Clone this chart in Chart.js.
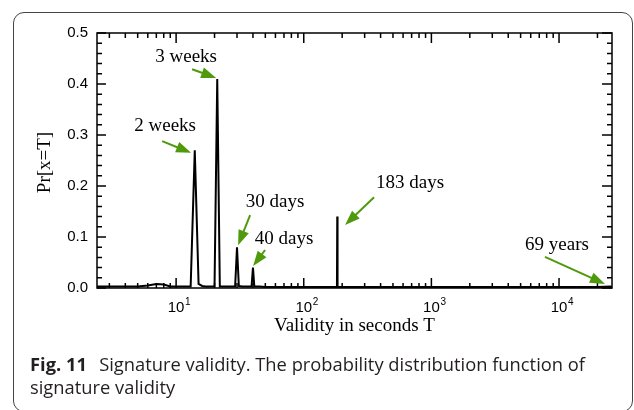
<!DOCTYPE html>
<html>
<head>
<meta charset="utf-8">
<script src="https://cdn.jsdelivr.net/npm/chart.js@4/dist/chart.umd.min.js"></script>
<style>
  html, body { margin: 0; padding: 0; background: #fff; }
  body { width: 634px; height: 410px; position: relative; overflow: hidden; }
  #frame {
    position: absolute; left: 13px; top: 12px; width: 620px; height: 400px;
    border: 1px solid #444; border-radius: 11px; box-sizing: border-box;
  }
  #chart { position: absolute; left: 0; top: 0; }
  #caption {
    position: absolute; left: 30px; top: 353px;
    font-family: "Open Sans", sans-serif; font-size: 18px; line-height: 23px;
    color: #231f20; transform-origin: left top; white-space: nowrap;
  }
  #caption b { font-weight: 700; margin-right: 12px; }
</style>
</head>
<body>
<div id="frame"></div>
<canvas id="chart" width="634" height="410"></canvas>
<div id="caption"><span id="cap1"><b>Fig. 11</b>Signature validity. The probability distribution function of</span><br><span>signature validity</span></div>
<script>
// validez en días (eje log) y probabilidad
const days = [2, 3, 4, 5, 6, 7, 8, 9, 10, 11, 12, 13, 14, 15, 16, 17, 18, 19, 20, 21, 22, 23, 25, 28, 29, 30, 31, 33, 36, 39, 40, 41, 45,
              50, 60, 70, 80, 100, 120, 150, 182, 183, 184, 200, 300, 500, 1000, 2000, 5000, 10000, 20000, 25200, 26000];
const prob = [0.003, 0.003, 0.003, 0.003, 0.005, 0.008, 0.007, 0.003, 0.003, 0.003, 0.003, 0.003, 0.27, 0.008, 0.004, 0.003, 0.003, 0.003, 0.003, 0.41, 0.003, 0.003, 0.003, 0.003, 0.003, 0.08, 0.004, 0.003, 0.003, 0.003, 0.04, 0.003, 0.003,
              0.002, 0.002, 0.002, 0.002, 0.002, 0.002, 0.002, 0.002, 0.14, 0.002, 0.002, 0.002, 0.002, 0.002, 0.002, 0.002, 0.002, 0.002, 0.003, 0.002];

// ticks
const xMajorTicks = [10, 100, 1000, 10000];
const xTickExp = ['1', '2', '3', '4'];
const xMinorMult = [2, 3, 4, 5, 6, 7, 8, 9];
const yMajorTicks = [0, 0.1, 0.2, 0.3, 0.4, 0.5];
const yTickLabels = ['0.0', '0.1', '0.2', '0.3', '0.4', '0.5'];
const yMinorStep = 0.02;

// anotaciones: texto, posición del texto, cola y punta de la flecha (en unidades de datos)
const notes = [
  { text: '2 weeks',  at: [8.2, 0.318],  from: [7.77, 0.288], to: [13.1, 0.265] },
  { text: '3 weeks',  at: [11.98, 0.453], from: [13.35, 0.429], to: [20.6, 0.412] },
  { text: '30 days',  at: [59.6, 0.169], from: [38.0, 0.143], to: [30.6, 0.084] },
  { text: '40 days',  at: [70.2, 0.096], from: [49.8, 0.0745], to: [40.1, 0.043] },
  { text: '183 days', at: [681, 0.206],  from: [355.6, 0.178], to: [210.7, 0.1235] },
  { text: '69 years', at: [9640, 0.084], from: [7762, 0.061], to: [22900, 0.008] }
];

const green = '#4f9a0c';
const sans = '"Liberation Sans", Arial, sans-serif';
const serif = '"Liberation Serif", "Times New Roman", serif';

function arrow(ctx, x1, y1, x2, y2) {
  const dx = x2 - x1, dy = y2 - y1;
  const len = Math.hypot(dx, dy);
  const ux = dx / len, uy = dy / len;
  const hl = 15, hw = 5.5;
  const bx = x2 - ux * hl, by = y2 - uy * hl;
  ctx.beginPath();
  ctx.moveTo(x1, y1);
  ctx.lineTo(bx + ux * 2, by + uy * 2);
  ctx.stroke();
  ctx.beginPath();
  ctx.moveTo(x2, y2);
  ctx.lineTo(bx - uy * hw, by + ux * hw);
  ctx.lineTo(bx + uy * hw, by - ux * hw);
  ctx.closePath();
  ctx.fill();
}

const framePlugin = {
  id: 'frame',
  afterDraw(chart) {
    const ctx = chart.ctx;
    const a = chart.chartArea;
    const xs = chart.scales.x, ys = chart.scales.y;
    ctx.save();
    ctx.strokeStyle = '#000';
    ctx.fillStyle = '#000';
    ctx.lineWidth = 1.5;
    ctx.strokeRect(a.left, a.top, a.right - a.left, a.bottom - a.top);

    // x ticks (hacia dentro, abajo y arriba)
    ctx.beginPath();
    xMajorTicks.forEach(function (d) {
      const base = d / 10;
      xMinorMult.forEach(function (m) {
        [base * m, d * m].forEach(function (v) {
          if (v <= xs.min || v >= xs.max) return;
          const px = xs.getPixelForValue(v);
          ctx.moveTo(px, a.bottom); ctx.lineTo(px, a.bottom - 5);
          ctx.moveTo(px, a.top); ctx.lineTo(px, a.top + 5);
        });
      });
      const px = xs.getPixelForValue(d);
      ctx.moveTo(px, a.bottom); ctx.lineTo(px, a.bottom - 10);
      ctx.moveTo(px, a.top); ctx.lineTo(px, a.top + 10);
    });
    // y ticks
    for (let v = 0; v <= 0.5001; v += yMinorStep) {
      const py = ys.getPixelForValue(v);
      ctx.moveTo(a.left, py); ctx.lineTo(a.left + 5, py);
      ctx.moveTo(a.right, py); ctx.lineTo(a.right - 5, py);
    }
    yMajorTicks.forEach(function (v) {
      const py = ys.getPixelForValue(v);
      ctx.moveTo(a.left, py); ctx.lineTo(a.left + 9, py);
      ctx.moveTo(a.right, py); ctx.lineTo(a.right - 10, py);
    });
    ctx.stroke();

    // etiquetas
    ctx.font = '15px ' + sans;
    ctx.textAlign = 'right';
    ctx.textBaseline = 'middle';
    yMajorTicks.forEach(function (v, i) {
      ctx.fillText(yTickLabels[i], a.left - 9, ys.getPixelForValue(v));
    });
    xMajorTicks.forEach(function (v, i) {
      const px = xs.getPixelForValue(v);
      ctx.font = '15px ' + sans;
      ctx.textAlign = 'center';
      ctx.fillText('10', px, a.bottom + 20);
      ctx.font = '10px ' + sans;
      ctx.textAlign = 'left';
      ctx.fillText(xTickExp[i], px + 9, a.bottom + 14);
    });

    ctx.font = '19px ' + serif;
    ctx.textAlign = 'center';
    ctx.fillText('Validity in seconds T', (a.left + a.right) / 2, a.bottom + 38);
    ctx.save();
    ctx.translate(45, (a.top + a.bottom) / 2 + 2);
    ctx.rotate(-Math.PI / 2);
    ctx.fillText('Pr[x=T]', 0, 0);
    ctx.restore();

    // anotaciones
    ctx.strokeStyle = green;
    ctx.fillStyle = green;
    ctx.lineWidth = 2;
    notes.forEach(function (n) {
      arrow(ctx, xs.getPixelForValue(n.from[0]), ys.getPixelForValue(n.from[1]),
                 xs.getPixelForValue(n.to[0]), ys.getPixelForValue(n.to[1]));
    });
    ctx.fillStyle = '#000';
    ctx.font = '19px ' + serif;
    notes.forEach(function (n) {
      ctx.fillText(n.text, xs.getPixelForValue(n.at[0]), ys.getPixelForValue(n.at[1]));
    });
    ctx.restore();
  }
};

new Chart(document.getElementById('chart'), {
  type: 'line',
  data: {
    datasets: [{
      data: days.map(function (d, i) { return { x: d, y: prob[i] }; }),
      borderColor: '#000',
      borderWidth: 2,
      pointRadius: 0,
      tension: 0,
      fill: false
    }]
  },
  options: {
    responsive: false,
    animation: false,
    devicePixelRatio: 1,
    layout: { padding: { left: 97, top: 33, right: 22, bottom: 122 } },
    plugins: { legend: { display: false }, tooltip: { enabled: false } },
    scales: {
      x: { type: 'logarithmic', min: 2.4, max: 26000, display: false },
      y: { type: 'linear', min: 0, max: 0.5, display: false }
    }
  },
  plugins: [framePlugin]
});

// ajustar el ancho del pie de figura
const cap1 = document.getElementById('cap1');
const w = cap1.getBoundingClientRect().width;
document.getElementById('caption').style.transform = 'scaleX(' + (555 / w) + ')';
</script>
</body>
</html>
